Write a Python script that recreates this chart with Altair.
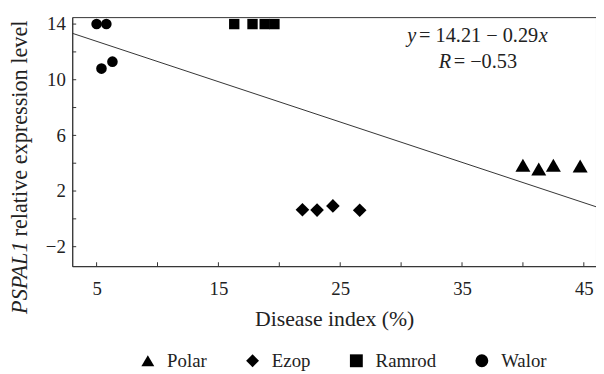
import altair as alt
import pandas as pd

# ---- data ----
varieties = ["Polar", "Ezop", "Ramrod", "Walor"]
polar_x = [40.0, 41.3, 42.5, 44.7]
polar_y = [3.85, 3.58, 3.85, 3.80]
ezop_x = [21.9, 23.1, 24.4, 26.6]
ezop_y = [0.65, 0.63, 0.93, 0.62]
ramrod_x = [16.3, 17.8, 18.8, 19.6]
ramrod_y = [14.0, 14.0, 14.0, 14.0]
walor_x = [5.0, 5.8, 5.4, 6.3]
walor_y = [14.0, 14.0, 10.8, 11.3]

fit_intercept = 14.21
fit_slope = -0.29

x_label_values = [5, 15, 25, 35, 45]
x_tick_values = [5, 10, 15, 20, 25, 30, 35, 40, 45]
y_label_values = [-2, 2, 6, 10, 14]
y_tick_values = [-2, 0, 2, 4, 6, 8, 10, 12, 14]
x_domain = [3, 46]
y_domain = [-3.4, 14.5]

shapes = ["triangle-up", "diamond", "square", "circle"]
marker_sizes = {"Polar": 230, "Ezop": 190, "Ramrod": 110, "Walor": 115}

SERIF = "Liberation Serif, Times New Roman, serif"
INK = "#222222"

rows = []
for name, xs_, ys_ in [("Polar", polar_x, polar_y), ("Ezop", ezop_x, ezop_y),
                       ("Ramrod", ramrod_x, ramrod_y), ("Walor", walor_x, walor_y)]:
    for a, b in zip(xs_, ys_):
        rows.append({"variety": name, "di": a, "expr": b})
df = pd.DataFrame(rows)

line_df = pd.DataFrame({"di": x_domain,
                        "expr": [fit_intercept + fit_slope * v for v in x_domain]})

xs = alt.Scale(domain=x_domain, nice=False, zero=False)
ys = alt.Scale(domain=y_domain, nice=False, zero=False)

W, H = 530, 252

size_expr = " : ".join(f"datum.variety == '{k}' ? {v}" for k, v in marker_sizes.items()) + " : 100"

points = alt.Chart(df).transform_calculate(sz=size_expr).mark_point(
    filled=True, opacity=1, color="black", strokeWidth=0).encode(
    x=alt.X("di:Q", scale=xs,
            axis=alt.Axis(values=x_label_values, ticks=False, grid=False,
                          title="Disease index (%)", labelPadding=14, titlePadding=10)),
    y=alt.Y("expr:Q", scale=ys,
            axis=alt.Axis(values=y_label_values, ticks=False, grid=False, title=None,
                          labelPadding=7,
                          labelExpr="datum.value < 0 ? '\u2212' + abs(datum.value) : datum.label")),
    shape=alt.Shape("variety:N", scale=alt.Scale(domain=varieties, range=shapes),
                    legend=alt.Legend(title=None, symbolSize=170)),
    size=alt.Size("sz:Q", scale=None, legend=None),
)

fit = alt.Chart(line_df).mark_line(color="#333333", strokeWidth=1).encode(
    x=alt.X("di:Q", scale=xs), y=alt.Y("expr:Q", scale=ys))

xt = alt.Chart(pd.DataFrame({"v": x_tick_values})).mark_tick(
    orient="vertical", size=4, thickness=1, color="#333333", opacity=1).encode(
    x=alt.X("v:Q", scale=xs), y=alt.value(H - 2))
yt = alt.Chart(pd.DataFrame({"v": y_tick_values})).mark_tick(
    orient="horizontal", size=4, thickness=1, color="#333333", opacity=1).encode(
    y=alt.Y("v:Q", scale=ys), x=alt.value(2))

one = pd.DataFrame({"k": [0]})


def txt(s, x, y, italic=False, align="left", size=20.5, angle=None, baseline="alphabetic"):
    kw = dict(text=s, font=SERIF, fontSize=size, color=INK, align=align, baseline=baseline)
    if italic:
        kw["fontStyle"] = "italic"
    if angle is not None:
        kw["angle"] = angle
    return alt.Chart(one).mark_text(**kw).encode(x=alt.value(x), y=alt.value(y))


annots = [
    txt("y", 339, 25, italic=True),
    txt("= 14.21 \u2212 0.29", 351, 25),
    txt("x", 472, 25, italic=True),
    txt("R", 371, 51.7, italic=True),
    txt("= \u22120.53", 386, 51.7),
    txt("PSPAL1", -46, 227, italic=True, align="right", size=22.5, angle=270),
    txt("relative expression level", -46, 222, align="left", size=22.5, angle=270),
]

chart = alt.layer(fit, xt, yt, points, *annots).properties(
    width=W, height=H,
    autosize=alt.AutoSizeParams(type="none"),
    padding={"left": 65, "top": 7, "right": 0, "bottom": 115},
).configure_view(stroke="#333333", strokeWidth=1).configure_axis(
    domainColor="#333333", labelFont=SERIF, labelFontSize=19, labelColor=INK,
    titleFont=SERIF, titleFontSize=22, titleFontWeight="normal", titleColor=INK,
).configure_legend(
    orient="none", legendX=67, legendY=338, direction="horizontal",
    labelFont=SERIF, labelFontSize=19, labelColor=INK, labelOffset=10,
    columnPadding=36, padding=0, symbolFillColor="black", symbolStrokeColor="black",
    symbolOpacity=1, symbolStrokeWidth=0,
)

chart.save("out.html", embed_options={"renderer": "svg", "actions": False})
